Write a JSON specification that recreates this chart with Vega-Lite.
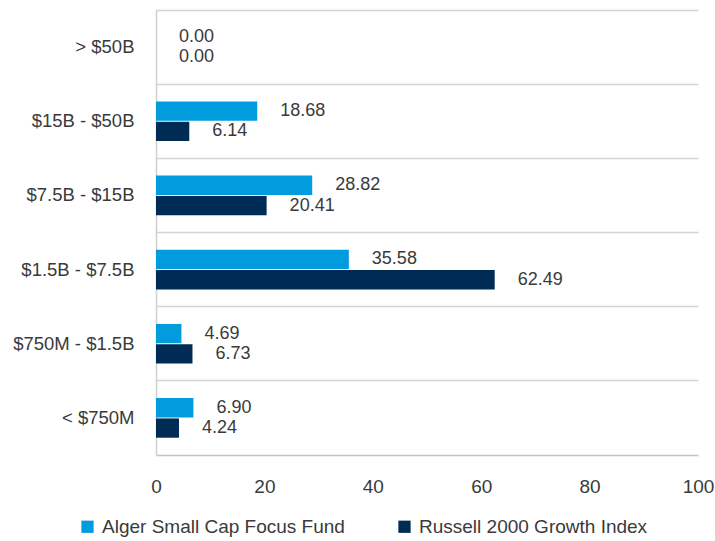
{
  "$schema": "https://vega.github.io/schema/vega-lite/v6.json",
  "width": 542,
  "height": 445,
  "autosize": "none",
  "padding": {"left": 156, "top": 10, "right": 17, "bottom": 86},
  "config": {
    "view": {"stroke": null},
    "font": "Liberation Sans",
    "text": {"font": "Liberation Sans"}
  },
  "data": {
    "values": [
      {"cap": "> $50B", "series": "Alger Small Cap Focus Fund", "value": 0.0, "label": "0.00"},
      {"cap": "> $50B", "series": "Russell 2000 Growth Index", "value": 0.0, "label": "0.00"},
      {"cap": "$15B - $50B", "series": "Alger Small Cap Focus Fund", "value": 18.68, "label": "18.68"},
      {"cap": "$15B - $50B", "series": "Russell 2000 Growth Index", "value": 6.14, "label": "6.14"},
      {"cap": "$7.5B - $15B", "series": "Alger Small Cap Focus Fund", "value": 28.82, "label": "28.82"},
      {"cap": "$7.5B - $15B", "series": "Russell 2000 Growth Index", "value": 20.41, "label": "20.41"},
      {"cap": "$1.5B - $7.5B", "series": "Alger Small Cap Focus Fund", "value": 35.58, "label": "35.58"},
      {"cap": "$1.5B - $7.5B", "series": "Russell 2000 Growth Index", "value": 62.49, "label": "62.49"},
      {"cap": "$750M - $1.5B", "series": "Alger Small Cap Focus Fund", "value": 4.69, "label": "4.69"},
      {"cap": "$750M - $1.5B", "series": "Russell 2000 Growth Index", "value": 6.73, "label": "6.73"},
      {"cap": "< $750M", "series": "Alger Small Cap Focus Fund", "value": 6.90, "label": "6.90"},
      {"cap": "< $750M", "series": "Russell 2000 Growth Index", "value": 4.24, "label": "4.24"}
    ]
  },
  "encoding": {
    "y": {
      "field": "cap",
      "type": "nominal",
      "sort": ["> $50B", "$15B - $50B", "$7.5B - $15B", "$1.5B - $7.5B", "$750M - $1.5B", "< $750M"],
      "scale": {"paddingInner": 0, "paddingOuter": 0},
      "axis": {
        "title": null,
        "grid": true,
        "gridColor": "#d4d4d4",
        "gridWidth": 1.5,
        "bandPosition": 0,
        "ticks": false,
        "domain": true,
        "domainColor": "#cfcfcf",
        "domainWidth": 1.5,
        "labelFontSize": 18.5,
        "labelColor": "#3a3a3a",
        "labelPadding": 22
      }
    },
    "yOffset": {
      "field": "series",
      "sort": ["Alger Small Cap Focus Fund", "Russell 2000 Growth Index"],
      "scale": {"paddingInner": 0.05, "paddingOuter": 0.85}
    },
    "x": {
      "field": "value",
      "type": "quantitative",
      "scale": {"domain": [0, 100]},
      "axis": {
        "title": null,
        "values": [0, 20, 40, 60, 80, 100],
        "grid": false,
        "ticks": false,
        "domain": true,
        "domainColor": "#c4c4c4",
        "domainWidth": 1.5,
        "labelFontSize": 19,
        "labelColor": "#3a3a3a",
        "labelPadding": 22,
        "labelFlush": false
      }
    }
  },
  "layer": [
    {
      "mark": {"type": "bar"},
      "encoding": {
        "color": {
          "field": "series",
          "type": "nominal",
          "sort": ["Alger Small Cap Focus Fund", "Russell 2000 Growth Index"],
          "scale": {"range": ["#009CDE", "#002B55"]},
          "legend": {
            "title": null,
            "orient": "none",
            "legendX": -78,
            "legendY": 507,
            "direction": "horizontal",
            "symbolType": "square",
            "symbolSize": 150,
            "symbolStrokeWidth": 0,
            "labelFontSize": 19,
            "labelColor": "#3a3a3a",
            "labelLimit": 400,
            "labelOffset": 5,
            "columnPadding": 50
          }
        }
      }
    },
    {
      "mark": {"type": "text", "align": "left", "baseline": "middle", "dx": 23, "fontSize": 18, "color": "#3a3a3a"},
      "encoding": {
        "text": {"field": "label"}
      }
    }
  ]
}
